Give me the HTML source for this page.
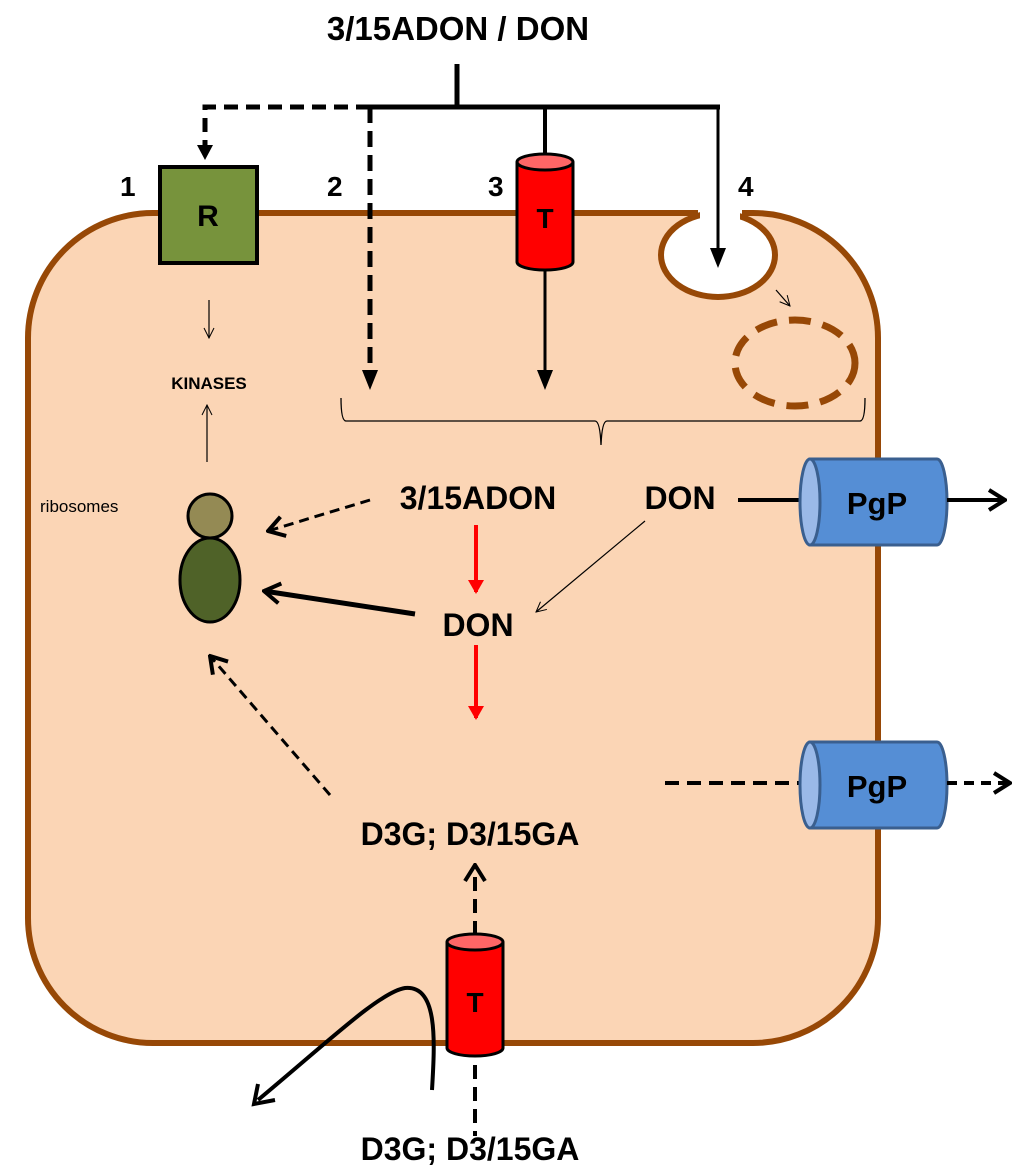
<!DOCTYPE html>
<html><head><meta charset="utf-8"><style>
html,body{margin:0;padding:0;background:#fff;}
svg{display:block;}
text{font-family:"Liberation Sans",Arial,sans-serif;font-weight:bold;fill:#000;}
</style></head><body>
<svg width="1024" height="1174" viewBox="0 0 1024 1174" xmlns="http://www.w3.org/2000/svg">
<defs>
<marker id="af" markerWidth="10" markerHeight="10" refX="8" refY="5" orient="auto" markerUnits="userSpaceOnUse"><path d="M0,0 L10,5 L0,10 Z" fill="#000"/></marker>
<marker id="ar" markerWidth="14" markerHeight="16" refX="12" refY="8" orient="auto" markerUnits="userSpaceOnUse"><path d="M0,0 L14,8 L0,16 Z" fill="#f00"/></marker>
<marker id="ao" markerWidth="20" markerHeight="24" refX="18" refY="12" orient="auto" markerUnits="userSpaceOnUse"><path d="M2,2 L18,12 L2,22" fill="none" stroke="#000" stroke-width="4"/></marker>
<marker id="at" markerWidth="12" markerHeight="12" refX="11" refY="6" orient="auto" markerUnits="userSpaceOnUse"><path d="M1,1 L11,6 L1,11" fill="none" stroke="#000" stroke-width="1"/></marker>
<marker id="ab" markerWidth="16" markerHeight="18" refX="14" refY="9" orient="auto" markerUnits="userSpaceOnUse"><path d="M0,0 L16,9 L0,18 Z" fill="#000"/></marker>
</defs>

<!-- cell -->
<rect x="28" y="213" width="850" height="830" rx="125" ry="125" fill="#fbd5b5" stroke="#974806" stroke-width="6"/>
<!-- pocket -->
<rect x="698" y="205" width="44" height="14" fill="#fff"/>
<ellipse cx="718" cy="255" rx="57" ry="42" fill="#fff" stroke="#974806" stroke-width="6"/>
<rect x="700" y="200" width="40" height="22" fill="#fff"/>
<!-- dashed vesicle -->
<ellipse cx="795" cy="363" rx="60" ry="43" fill="none" stroke="#974806" stroke-width="7" stroke-dasharray="22,12"/>
<line x1="776" y1="290" x2="790" y2="306" stroke="#000" stroke-width="1.2" marker-end="url(#at)"/>

<!-- top title and connectors -->
<text x="458" y="40" font-size="33" text-anchor="middle">3/15ADON / DON</text>
<line x1="457" y1="64" x2="457" y2="107" stroke="#000" stroke-width="5"/>
<line x1="370" y1="107" x2="720" y2="107" stroke="#000" stroke-width="5"/>
<polyline points="370,107 205,107 205,148" fill="none" stroke="#000" stroke-width="5" stroke-dasharray="14,8"/>
<path d="M197,145 L213,145 L205,160 Z" fill="#000"/>
<line x1="370" y1="107" x2="370" y2="372" stroke="#000" stroke-width="5" stroke-dasharray="16,8"/>
<path d="M362,370 L378,370 L370,390 Z" fill="#000"/>
<line x1="545" y1="107" x2="545" y2="155" stroke="#000" stroke-width="4"/>
<line x1="545" y1="270" x2="545" y2="372" stroke="#000" stroke-width="3"/>
<path d="M537,370 L553,370 L545,390 Z" fill="#000"/>
<line x1="718" y1="107" x2="718" y2="250" stroke="#000" stroke-width="3"/>
<path d="M710,248 L726,248 L718,268 Z" fill="#000"/>

<!-- numbers -->
<text x="120" y="196" font-size="28">1</text>
<text x="327" y="196" font-size="28">2</text>
<text x="488" y="196" font-size="28">3</text>
<text x="738" y="196" font-size="28">4</text>

<!-- R box -->
<rect x="160" y="167" width="97" height="96" fill="#77933c" stroke="#000" stroke-width="4"/>
<text x="208" y="226" font-size="30" text-anchor="middle">R</text>

<!-- top T -->
<path d="M517,162 L517,262 A28,8 0 0 0 573,262 L573,162" fill="#f00" stroke="#000" stroke-width="3"/>
<ellipse cx="545" cy="162" rx="28" ry="8" fill="#ff6666" stroke="#000" stroke-width="3"/>
<text x="545" y="228" font-size="28" text-anchor="middle">T</text>

<!-- kinases -->
<line x1="209" y1="300" x2="209" y2="338" stroke="#000" stroke-width="1.2" marker-end="url(#at)"/>
<text x="209" y="389" font-size="17" text-anchor="middle">KINASES</text>
<line x1="207" y1="462" x2="207" y2="405" stroke="#000" stroke-width="1.2" marker-end="url(#at)"/>

<!-- brace -->
<path d="M341,398 Q341,421 346,421 L595,421 Q600,421 601,445 Q602,421 607,421 L860,421 Q865,421 865,398" fill="none" stroke="#000" stroke-width="1.3"/>

<!-- ribosomes -->
<text x="40" y="512" font-size="17" style="font-weight:normal">ribosomes</text>
<ellipse cx="210" cy="516" rx="22" ry="22" fill="#948a54" stroke="#000" stroke-width="3"/>
<ellipse cx="210" cy="580" rx="30" ry="42" fill="#4f6228" stroke="#000" stroke-width="3"/>

<!-- middle labels -->
<text x="478" y="509" font-size="32" text-anchor="middle">3/15ADON</text>
<text x="680" y="509" font-size="32" text-anchor="middle">DON</text>
<text x="478" y="636" font-size="32" text-anchor="middle">DON</text>

<line x1="370" y1="500" x2="268" y2="531" stroke="#000" stroke-width="3" stroke-dasharray="10,6" marker-end="url(#ao)"/>
<line x1="476" y1="525" x2="476" y2="592" stroke="#f00" stroke-width="4" marker-end="url(#ar)"/>
<line x1="476" y1="645" x2="476" y2="718" stroke="#f00" stroke-width="4" marker-end="url(#ar)"/>
<line x1="645" y1="521" x2="536" y2="612" stroke="#000" stroke-width="1.2" marker-end="url(#at)"/>
<line x1="415" y1="614" x2="264" y2="591" stroke="#000" stroke-width="5" marker-end="url(#ao)"/>
<line x1="330" y1="795" x2="210" y2="656" stroke="#000" stroke-width="3" stroke-dasharray="10,6" marker-end="url(#ao)"/>

<text x="470" y="845" font-size="32" text-anchor="middle">D3G; D3/15GA</text>

<!-- PgP 1 -->
<line x1="738" y1="500" x2="812" y2="500" stroke="#000" stroke-width="4"/>
<path d="M810,459 L937,459 A10,43 0 0 1 937,545 L810,545 Z" fill="#558ed5" stroke="#3a5f8f" stroke-width="3"/>
<ellipse cx="810" cy="502" rx="10" ry="43" fill="#9ab9e8" stroke="#3a5f8f" stroke-width="3"/>
<text x="877" y="514" font-size="31" text-anchor="middle">PgP</text>
<line x1="947" y1="500" x2="1005" y2="500" stroke="#000" stroke-width="4" marker-end="url(#ao)"/>

<!-- PgP 2 -->
<line x1="665" y1="783" x2="812" y2="783" stroke="#000" stroke-width="4" stroke-dasharray="14,8"/>
<path d="M810,742 L937,742 A10,43 0 0 1 937,828 L810,828 Z" fill="#558ed5" stroke="#3a5f8f" stroke-width="3"/>
<ellipse cx="810" cy="785" rx="10" ry="43" fill="#9ab9e8" stroke="#3a5f8f" stroke-width="3"/>
<text x="877" y="797" font-size="31" text-anchor="middle">PgP</text>
<line x1="947" y1="783" x2="1010" y2="783" stroke="#000" stroke-width="4" stroke-dasharray="10,7" marker-end="url(#ao)"/>

<!-- bottom T -->
<line x1="475" y1="935" x2="475" y2="865" stroke="#000" stroke-width="4" stroke-dasharray="14,8" marker-end="url(#ao)"/>
<path d="M447,942 L447,1048 A28,8 0 0 0 503,1048 L503,942" fill="#f00" stroke="#000" stroke-width="3"/>
<ellipse cx="475" cy="942" rx="28" ry="8" fill="#ff6666" stroke="#000" stroke-width="3"/>
<text x="475" y="1012" font-size="28" text-anchor="middle">T</text>
<line x1="475" y1="1065" x2="475" y2="1136" stroke="#000" stroke-width="4" stroke-dasharray="14,8"/>

<!-- curved arrow -->
<path d="M432,1090 C435,1040 438,985 405,988 C380,992 330,1040 258,1100" fill="none" stroke="#000" stroke-width="4"/>
<path d="M258,1084 L254,1104 L275,1100" fill="none" stroke="#000" stroke-width="4"/>

<text x="470" y="1160" font-size="32" text-anchor="middle">D3G; D3/15GA</text>
</svg>
</body></html>
